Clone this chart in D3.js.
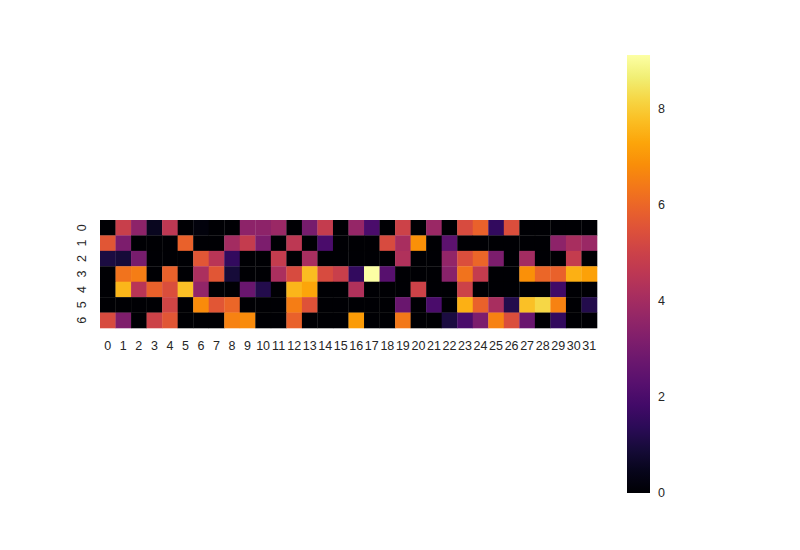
<!DOCTYPE html>
<html>
<head>
<meta charset="utf-8">
<script src="https://cdn.jsdelivr.net/npm/d3@7"></script>
<style>
  body { margin: 0; background: #fff; }
  text { font-family: "Liberation Sans", Arial, sans-serif; fill: #262626; }
</style>
</head>
<body>
<div id="chart"></div>
<script>
// row / column labels
var rowLabels = ["0", "1", "2", "3", "4", "5", "6"];
var colLabels = d3.range(32).map(String);

// cell values, one array per row
var row0 = [0, 4.9, 3.5, 0.5, 4.6, 0, 0.2, 0, 0, 3.5, 3.5, 3.8, 0, 3.0, 4.8, 0, 3.7, 2.0, 0, 5.0, 0, 3.8, 0, 5.3, 5.9, 1.5, 5.4, 0, 0, 0, 0, 0];
var row1 = [5.6, 3.1, 0, 0, 0, 5.9, 0, 0, 4.0, 4.8, 3.1, 0, 4.6, 0, 2.0, 0, 0, 0, 5.3, 4.1, 6.9, 0, 2.4, 0, 0, 0, 0, 0, 0, 3.5, 4.1, 3.8];
var row2 = [1.0, 0.9, 3.0, 0, 0, 0, 5.6, 4.5, 1.5, 0, 0, 4.8, 0, 4.1, 0, 0, 0, 0, 0, 4.3, 0, 0, 3.6, 5.4, 6.0, 3.1, 0, 4.0, 0, 0, 4.8, 0];
var row3 = [0, 6.3, 6.5, 0, 5.9, 0, 4.2, 5.6, 0.9, 0, 0, 4.2, 5.3, 7.7, 5.3, 4.9, 1.5, 9.12, 2.3, 0, 0, 0, 3.4, 6.3, 4.8, 0, 0, 6.9, 6.0, 5.9, 7.5, 7.2];
var row4 = [0, 7.6, 4.5, 5.9, 5.4, 7.8, 3.6, 0, 0, 2.7, 1.2, 0, 7.6, 7.3, 0, 0, 4.3, 0, 0, 0, 5.0, 0, 0, 5.0, 0, 0, 0, 0, 0, 1.8, 0, 0];
var row5 = [0, 0, 0, 0, 5.1, 0, 6.8, 5.6, 6.0, 0, 0, 0, 6.5, 5.5, 0, 0, 0, 0, 0, 2.7, 0, 2.0, 0, 7.5, 5.9, 4.1, 1.2, 7.8, 8.2, 6.6, 0, 1.2];
var row6 = [5.3, 3.2, 0, 5.0, 5.6, 0, 0, 0, 6.6, 6.8, 0, 0, 5.9, 0, 0, 0, 7.1, 0, 0, 6.4, 0, 0, 1.0, 2.0, 3.1, 6.6, 5.4, 2.7, 0, 1.5, 0, 0];
var rows = [row0, row1, row2, row3, row4, row5, row6];

// colorbar ticks
var cbarTicks = [0, 2, 4, 6, 8];

var W = 800, H = 550;
var svg = d3.select("#chart").append("svg")
    .attr("width", W)
    .attr("height", H);

var cells = [];
rows.forEach(function(r, i) {
    r.forEach(function(v, j) {
        cells.push({row: rowLabels[i], col: colLabels[j], value: v});
    });
});

var vmax = d3.max(cells, function(d) { return d.value; });

// heatmap area
var hm = {left: 100, right: 597, top: 220, bottom: 328};

var x = d3.scaleBand()
    .domain(colLabels)
    .range([hm.left, hm.right]);

var y = d3.scaleBand()
    .domain(rowLabels)
    .range([hm.top, hm.bottom]);

var color = d3.scaleSequential(d3.interpolateInferno)
    .domain([0, vmax]);

svg.append("g")
    .selectAll("rect")
    .data(cells)
    .enter().append("rect")
    .attr("x", function(d) { return x(d.col); })
    .attr("y", function(d) { return y(d.row); })
    .attr("width", x.bandwidth() + 0.3)
    .attr("height", y.bandwidth() + 0.3)
    .attr("fill", function(d) { return color(d.value); });

// x tick labels
svg.append("g")
    .selectAll("text")
    .data(colLabels)
    .enter().append("text")
    .attr("x", function(d) { return x(d) + x.bandwidth() / 2; })
    .attr("y", hm.bottom + 22)
    .attr("text-anchor", "middle")
    .attr("font-size", 12.5)
    .text(function(d) { return d; });

// y tick labels (rotated)
svg.append("g")
    .selectAll("text")
    .data(rowLabels)
    .enter().append("text")
    .attr("transform", function(d) {
        return "translate(" + (hm.left - 14) + "," + (y(d) + y.bandwidth() / 2) + ") rotate(-90)";
    })
    .attr("text-anchor", "middle")
    .attr("font-size", 12.5)
    .text(function(d) { return d; });

// colorbar
var cb = {left: 627, width: 23, top: 55, bottom: 493};

var cy = d3.scaleLinear()
    .domain([0, vmax])
    .range([cb.bottom, cb.top]);

var grad = svg.append("defs").append("linearGradient")
    .attr("id", "cbar-grad")
    .attr("x1", "0%").attr("y1", "100%")
    .attr("x2", "0%").attr("y2", "0%");

grad.selectAll("stop")
    .data(d3.range(0, 1.0001, 0.05))
    .enter().append("stop")
    .attr("offset", function(t) { return (t * 100) + "%"; })
    .attr("stop-color", function(t) { return d3.interpolateInferno(t); });

svg.append("rect")
    .attr("x", cb.left)
    .attr("y", cb.top)
    .attr("width", cb.width)
    .attr("height", cb.bottom - cb.top)
    .attr("fill", "url(#cbar-grad)");

svg.append("g")
    .selectAll("text")
    .data(cbarTicks)
    .enter().append("text")
    .attr("x", cb.left + cb.width + 8)
    .attr("y", function(d) { return cy(d); })
    .attr("dy", "0.35em")
    .attr("font-size", 12.5)
    .text(function(d) { return d; });
</script>
</body>
</html>
